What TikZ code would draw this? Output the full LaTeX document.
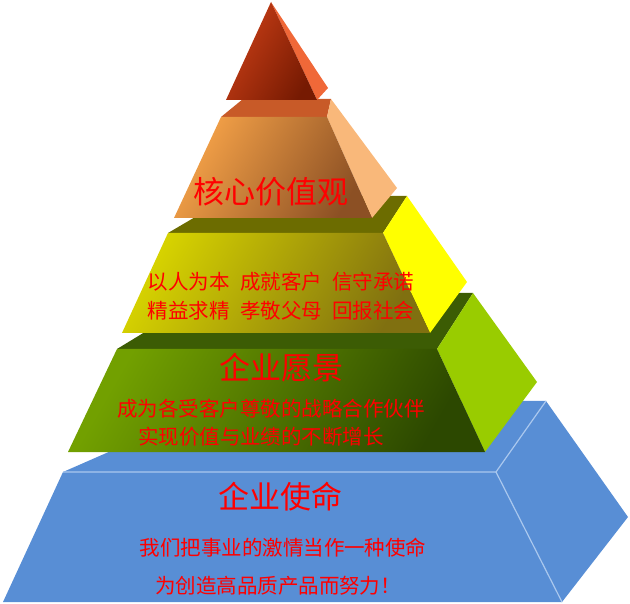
\documentclass[tikz,border=0pt]{standalone}
\usepackage{fontspec}
\setmainfont{Noto Sans CJK SC}
\usetikzlibrary{positioning}
\definecolor{peakred}{RGB}{200,62,22}
\definecolor{peakdark}{RGB}{118,26,2}
\definecolor{peakside}{RGB}{240,104,56}
\definecolor{coreorange}{RGB}{245,162,72}
\definecolor{corebrown}{RGB}{140,80,36}
\definecolor{coreside}{RGB}{249,184,122}
\definecolor{coretop}{RGB}{200,90,40}
\definecolor{valyellow}{RGB}{214,210,0}
\definecolor{valolive}{RGB}{128,112,16}
\definecolor{valside}{RGB}{255,255,0}
\definecolor{valtop}{RGB}{108,108,0}
\definecolor{visgreen}{RGB}{114,160,0}
\definecolor{visdark}{RGB}{44,72,0}
\definecolor{visside}{RGB}{153,204,0}
\definecolor{vistop}{RGB}{60,92,4}
\definecolor{missionblue}{RGB}{88,142,213}
\definecolor{edgeblue}{RGB}{170,200,238}

\begin{document}
\begin{tikzpicture}[
    x=1pt, y=-1pt,
    face/.style={line join=round},
    front/.style 2 args={face, left color=#1, right color=#2, shading angle=60},
    ridge/.style={draw=edgeblue, line width=1.2pt},
    title/.style={text=red, inner sep=0pt, font=\fontsize{31}{31}\selectfont},
    body/.style={text=red, inner sep=0pt, font=\fontsize{20.5}{20.5}\selectfont}
]
\useasboundingbox (0,0) rectangle (630,604);

% Mission layer
\fill[missionblue, face] (63,472) -- (496,472) -- (546,401) -- (225,401) -- cycle;
\fill[missionblue, face] (496,472) -- (546,401) -- (628,517) -- (562,602) -- cycle;
\fill[missionblue, face] (63,472) -- (496,472) -- (562,602) -- (3,602) -- cycle;
\draw[ridge] (63,472) -- (496,472) -- (562,602);
\draw[ridge] (496,472) -- (546,401);

% Vision layer
\fill[vistop, face] (117,349) -- (437,349) -- (473,293) -- (209,293) -- cycle;
\fill[visside, face] (437,349) -- (473,293) -- (537,382) -- (485,452) -- cycle;
\shade[front={visgreen}{visdark}] (117,349) -- (437,349) -- (485,452) -- (68,452) -- cycle;

% Values layer
\fill[valtop, face] (168,233) -- (383,233) -- (407,196) -- (231,196) -- cycle;
\fill[valside, face] (383,233) -- (407,196) -- (467,282) -- (430,333) -- cycle;
\shade[front={valyellow}{valolive}] (168,233) -- (383,233) -- (430,333) -- (122,333) -- cycle;

% Core layer
\fill[coretop, face] (221,117) -- (327,117) -- (331,99) -- (243,99) -- cycle;
\fill[coreside, face] (327,117) -- (331,99) -- (397,188) -- (372,218) -- cycle;
\shade[front={coreorange}{corebrown}] (221,117) -- (327,117) -- (372,218) -- (174,218) -- cycle;

% Peak
\fill[peakside, face] (271,2) -- (328,88) -- (317,100) -- cycle;
\shade[front={peakred}{peakdark}] (271,2) -- (317,100) -- (226,100) -- cycle;

% Texts
\node[title] (core) at (271,192) {核心价值观};
\node[body] (values1) at (281,282) {以人为本\hspace{0.5em}成就客户\hspace{0.5em}信守承诺};
\node[body, below=9pt of values1] (values2) {精益求精\hspace{0.5em}孝敬父母\hspace{0.5em}回报社会};

\node[title] (vision) at (281,368) {企业愿景};
\node[body, below=16pt of vision, xshift=-10pt] (vision1) {成为各受客户尊敬的战略合作伙伴};
\node[body, below=9pt of vision1, xshift=-10pt] (vision2) {实现价值与业绩的不断增长};

\node[title] (mission) at (280,497) {企业使命};
\node[body, below=26pt of mission, xshift=3pt] (mission1) {我们把事业的激情当作一种使命};
\node[body, below=19pt of mission1, xshift=-5pt] (mission2) {为创造高品质产品而努力！};

\end{tikzpicture}
\end{document}
